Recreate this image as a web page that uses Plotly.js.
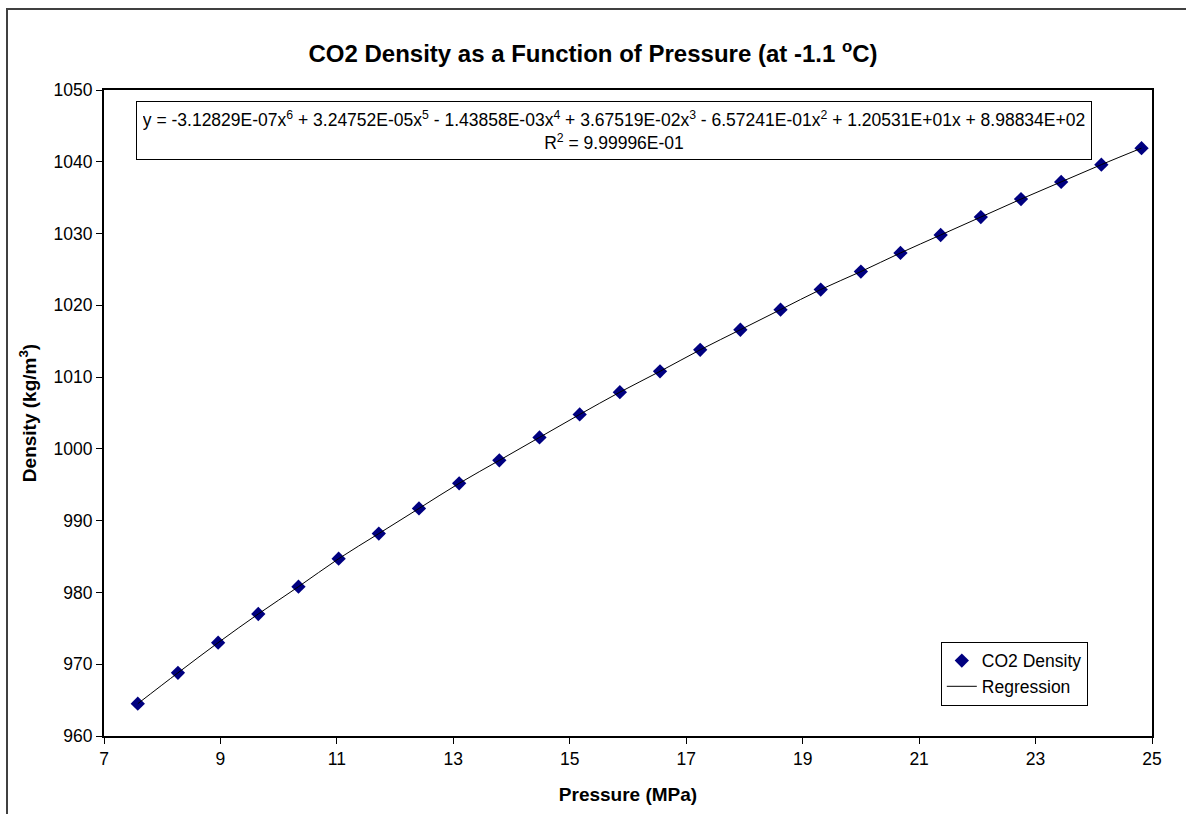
<!DOCTYPE html>
<html>
<head>
<meta charset="utf-8">
<script src="https://cdn.plot.ly/plotly-3.0.1.min.js"></script>
<style>html,body{margin:0;padding:0;background:#fff;}#chart{width:1186px;height:814px;}</style>
</head>
<body>
<div id="chart"></div>
<script>
// Pressure (MPa) and density (kg/m^3)
const pressure = [7.58, 8.27, 8.96, 9.65, 10.34, 11.03, 11.72, 12.41, 13.10, 13.79,
  14.48, 15.17, 15.86, 16.55, 17.24, 17.93, 18.62, 19.31, 20.00, 20.68,
  21.37, 22.06, 22.75, 23.44, 24.13, 24.82];
const density = [964.5, 968.8, 973.0, 977.0, 980.8, 984.7, 988.2, 991.7, 995.2, 998.4,
  1001.6, 1004.8, 1007.9, 1010.8, 1013.8, 1016.6, 1019.4, 1022.2, 1024.7, 1027.3,
  1029.8, 1032.3, 1034.8, 1037.2, 1039.6, 1041.9];
const xTicks = [7, 9, 11, 13, 15, 17, 19, 21, 23, 25];
const yTicks = [960, 970, 980, 990, 1000, 1010, 1020, 1030, 1040, 1050];

const font = 'Arial, "Liberation Sans", sans-serif';

const traces = [
  {
    x: pressure, y: density, mode: 'markers', type: 'scatter', name: 'CO2 Density',
    marker: {symbol: 'diamond', size: 11, color: '#000080'}
  },
  {
    x: pressure, y: density, mode: 'lines', type: 'scatter', name: 'Regression',
    line: {color: '#000000', width: 1, shape: 'spline'}
  }
];

const layout = {
  width: 1186, height: 814,
  margin: {l: 104, r: 34, t: 90, b: 78},
  paper_bgcolor: '#ffffff', plot_bgcolor: '#ffffff',
  font: {family: font, color: '#000', size: 17.5},
  title: {
    text: '<b>CO2 Density as a Function of Pressure (at -1.1 <sup>o</sup>C)</b>',
    font: {family: font, size: 24, color: '#000'},
    x: 0.5, xanchor: 'center', y: 0.934, yanchor: 'middle'
  },
  xaxis: {
    range: [7, 25], tickvals: xTicks, ticktext: xTicks.map(String),
    ticks: 'outside', ticklen: 6, tickwidth: 1, tickcolor: '#000',
    showline: true, linecolor: '#000', linewidth: 2, mirror: true,
    showgrid: false, zeroline: false,
    tickfont: {family: font, size: 17.5, color: '#000'},
    title: {text: '<b>Pressure (MPa)</b>', font: {family: font, size: 19, color: '#000'}, standoff: 20}
  },
  yaxis: {
    range: [960, 1050], tickvals: yTicks, ticktext: yTicks.map(String),
    ticks: 'outside', ticklen: 6, tickwidth: 1, tickcolor: '#000',
    showline: true, linecolor: '#000', linewidth: 2, mirror: true,
    showgrid: false, zeroline: false,
    tickfont: {family: font, size: 17.5, color: '#000'},
    title: {text: '<b>Density (kg/m<sup>3</sup>)</b>', font: {family: font, size: 19, color: '#000'}, standoff: 12}
  },
  legend: {
    x: 0.7985, y: 0.146, xanchor: 'left', yanchor: 'top',
    bgcolor: '#ffffff', bordercolor: '#000', borderwidth: 1,
    font: {family: font, size: 17.5, color: '#000'},
    tracegroupgap: 0, itemwidth: 30
  },
  showlegend: true,
  annotations: [{
    xref: 'paper', yref: 'paper', x: 0.0305, y: 0.983, xanchor: 'left', yanchor: 'top',
    text: 'y = -3.12829E-07x<sup>6</sup> + 3.24752E-05x<sup>5</sup> - 1.43858E-03x<sup>4</sup> + 3.67519E-02x<sup>3</sup> - 6.57241E-01x<sup>2</sup> + 1.20531E+01x + 8.98834E+02<br>R<sup>2</sup> = 9.99996E-01',
    showarrow: false, align: 'center',
    font: {family: font, size: 17.5, color: '#000'},
    bordercolor: '#000', borderwidth: 1, bgcolor: '#ffffff', borderpad: 6,
    width: 942
  }],
  shapes: [{
    type: 'rect', xref: 'paper', yref: 'paper',
    x0: (7 - 104) / 1048, x1: 1.2, y0: -0.3, y1: (736 - 9) / 646,
    line: {color: '#404040', width: 2}, fillcolor: 'rgba(0,0,0,0)', layer: 'below'
  }]
};

Plotly.newPlot('chart', traces, layout, {displayModeBar: false, staticPlot: true});
</script>
</body>
</html>
